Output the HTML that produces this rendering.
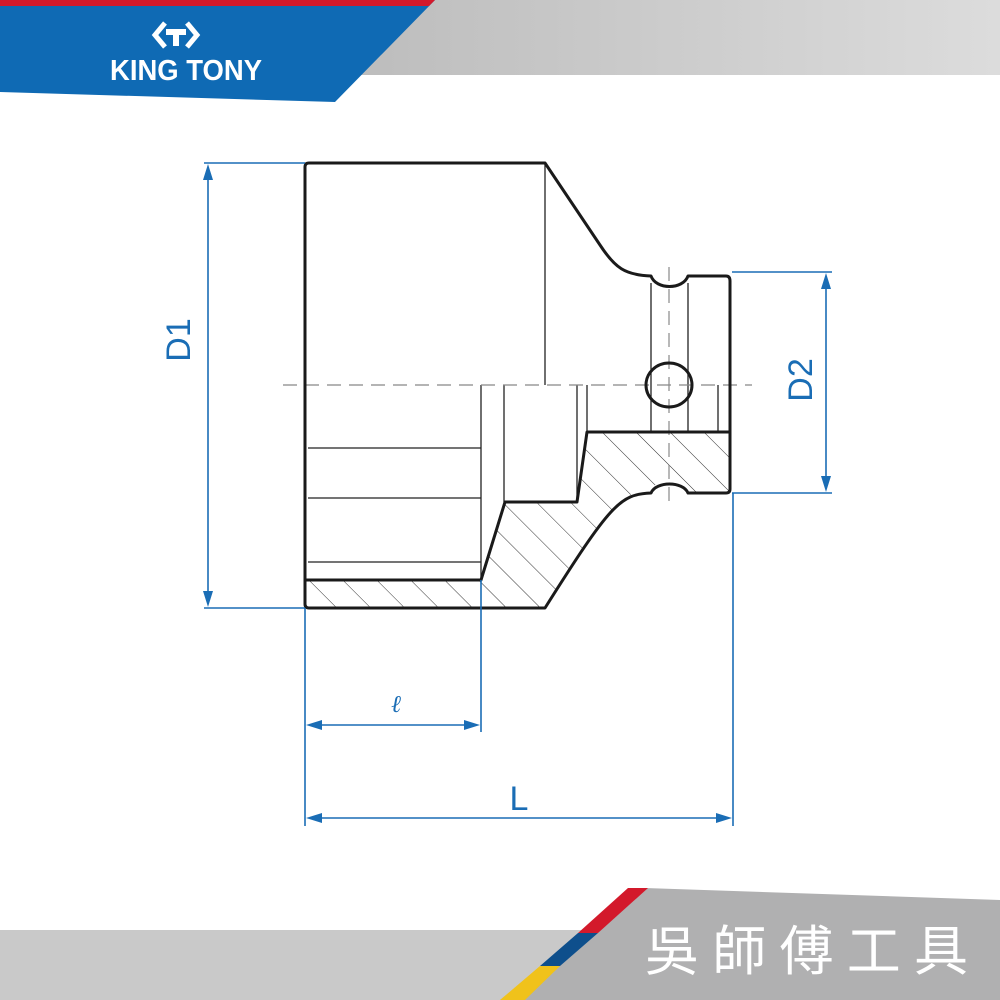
<!DOCTYPE html>
<html><head><meta charset="utf-8"><style>
html,body{margin:0;padding:0;background:#fff}
svg{display:block}
</style></head><body>
<svg width="1000" height="1000" viewBox="0 0 1000 1000" xmlns="http://www.w3.org/2000/svg">
<defs>
<linearGradient id="g1" x1="0" x2="1" y1="0" y2="0"><stop offset="0" stop-color="#bdbdbd"/><stop offset="1" stop-color="#dcdcdc"/></linearGradient>
<pattern id="hatch" patternUnits="userSpaceOnUse" width="24" height="24" patternTransform="rotate(-45)">
<line x1="0" y1="0" x2="0" y2="24" stroke="#333" stroke-width="1"/></pattern>
</defs>
<!-- header -->
<polygon points="430,0 1000,0 1000,75 360,75" fill="url(#g1)"/>
<polygon points="0,0 435,0 335,102 0,92" fill="#0f6ab4"/>
<polygon points="0,0 435,0 429,6 0,6" fill="#d3192b"/>
<g fill="none" stroke="#fff" stroke-width="5">
<polyline points="165,23 155,35 165,47"/><polyline points="187,23 197,35 187,47"/></g>
<path d="M166,29 h20 v6 h-7 v11 h-6 v-11 h-7z" fill="#fff"/>
<text x="110" y="80" font-family="Liberation Sans, sans-serif" font-weight="bold" font-size="29" fill="#fff" textLength="152" lengthAdjust="spacingAndGlyphs">KING TONY</text>
<!-- footer -->
<rect x="0" y="930" width="1000" height="70" fill="#c9c9c9"/>
<polygon points="645,888 1000,900 1000,1000 500,1000" fill="#b0b0b1"/>
<polygon points="628,888 648,888 598,933 578,933" fill="#d3192b"/>
<polygon points="578,933 598,933 560,966 540,966" fill="#0e4f8c"/>
<polygon points="540,966 560,966 525,1000 500,1000" fill="#f0c21b"/>
<text x="645" y="970" font-family="Liberation Sans, 'Noto Sans CJK TC', sans-serif" font-size="54" fill="#fff" textLength="323" lengthAdjust="spacing">吳師傅工具</text>
<!-- hatched regions -->
<path d="M305,580 H481 L505,502 H577 L587,432 H730 V493 H688 C686,480 652,480 651,490 C620,492 610,505 545,608 H305 Z" fill="url(#hatch)"/>
<!-- thin lines -->
<g stroke="#222" stroke-width="1.3" fill="none">
<line x1="545" y1="163" x2="545" y2="385"/>
<line x1="481" y1="385" x2="481" y2="577"/>
<line x1="504" y1="385" x2="504" y2="502"/>
<line x1="577" y1="385" x2="577" y2="502"/>
<line x1="587" y1="385" x2="587" y2="432"/>
<line x1="651" y1="283" x2="651" y2="432"/>
<line x1="688" y1="283" x2="688" y2="432"/>
<line x1="718" y1="385" x2="718" y2="432"/>
<line x1="308" y1="448" x2="481" y2="448"/>
<line x1="308" y1="498" x2="481" y2="498"/>
<line x1="308" y1="562" x2="481" y2="562"/>
</g>
<g stroke="#888" stroke-width="1.2" fill="none" stroke-dasharray="14,8">
<line x1="283" y1="385" x2="752" y2="385"/>
<line x1="669" y1="267" x2="669" y2="505"/>
</g>
<!-- outline -->
<g stroke="#1a1a1a" stroke-width="3" fill="none" stroke-linejoin="round">
<path d="M309,163 H545 L600,245 C615,268 625,275 651,276 C656,290 683,290 688,276 H726 Q730,276 730,281 V489 Q730,493 726,493 H688 C683,481 656,481 651,493 C620,494 610,505 545,608 H309 Q305,608 305,604 V167 Q305,163 309,163 Z"/>
<path d="M305,580 H481 L505,502 H577 L587,432 H730"/>
<ellipse cx="669" cy="385" rx="23" ry="22"/>
</g>
<!-- dimensions -->
<g stroke="#1a6db5" stroke-width="1.6" fill="#1a6db5">
<line x1="204" y1="163" x2="305" y2="163"/>
<line x1="204" y1="608" x2="305" y2="608"/>
<line x1="208" y1="170" x2="208" y2="600"/>
<polygon points="208,164 203,180 213,180" stroke="none"/>
<polygon points="208,607 203,591 213,591" stroke="none"/>
<line x1="732" y1="272" x2="832" y2="272"/>
<line x1="732" y1="493" x2="832" y2="493"/>
<line x1="826" y1="278" x2="826" y2="488"/>
<polygon points="826,273 821,289 831,289" stroke="none"/>
<polygon points="826,492 821,476 831,476" stroke="none"/>
<line x1="305" y1="608" x2="305" y2="826"/>
<line x1="733" y1="493" x2="733" y2="826"/>
<line x1="481" y1="580" x2="481" y2="732"/>
<line x1="310" y1="818" x2="728" y2="818"/>
<polygon points="306,818 322,813 322,823" stroke="none"/>
<polygon points="732,818 716,813 716,823" stroke="none"/>
<line x1="310" y1="725" x2="476" y2="725"/>
<polygon points="306,725 322,720 322,730" stroke="none"/>
<polygon points="480,725 464,720 464,730" stroke="none"/>
</g>
<g font-family="Liberation Sans, sans-serif" fill="#1a6db5" font-size="34">
<text transform="translate(190,340) rotate(-90)" text-anchor="middle">D1</text>
<text transform="translate(812,380) rotate(-90)" text-anchor="middle">D2</text>
<text x="519" y="810" text-anchor="middle">L</text>
<text x="396" y="712" text-anchor="middle" font-family="Liberation Serif, serif" font-style="italic" font-size="24">ℓ</text>
</g>
</svg>
</body></html>
